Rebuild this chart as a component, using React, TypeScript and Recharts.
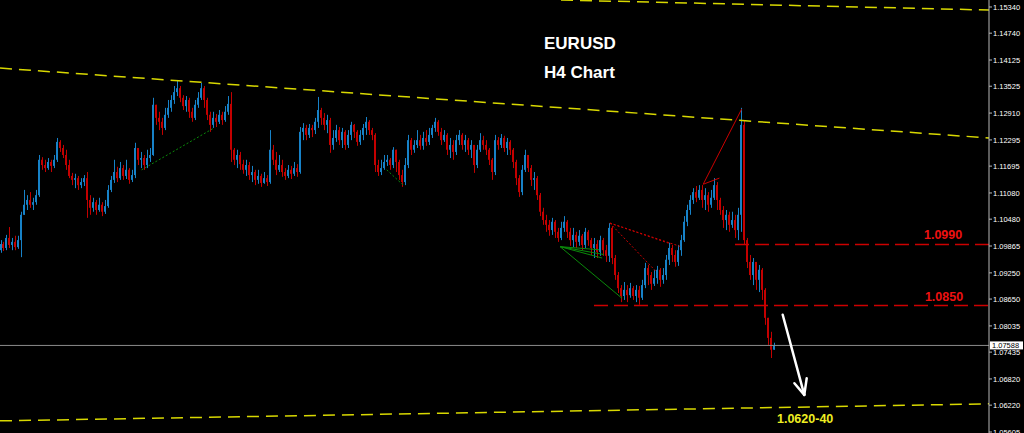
import React from 'react';
import { ComposedChart, Bar, XAxis, YAxis, ReferenceLine, ReferenceDot } from 'recharts';

// ---------- data (EURUSD H4) ----------
const FIRST_OPEN = 1.0977;

const closes = [
  1.0991, 1.0982, 1.1005, 1.0989, 1.0996, 1.0984, 1.1000, 1.1058, 1.1081, 1.1092,
  1.1081, 1.1087, 1.1103, 1.1184, 1.1172, 1.1165, 1.1179, 1.1170, 1.1184, 1.1225,
  1.1211, 1.1195, 1.1172, 1.1147, 1.1138, 1.1142, 1.1126, 1.1133, 1.1142, 1.1092,
  1.1074, 1.1087, 1.1069, 1.1081, 1.1065, 1.1078, 1.1115, 1.1138, 1.1156, 1.1142,
  1.1165, 1.1147, 1.1161, 1.1138, 1.1149, 1.1211, 1.1184, 1.1188, 1.1172, 1.1188,
  1.1195, 1.1310, 1.1280, 1.1271, 1.1257, 1.1287, 1.1303, 1.1321, 1.1339, 1.1348,
  1.1326, 1.1307, 1.1321, 1.1294, 1.1280, 1.1310, 1.1326, 1.1348, 1.1321, 1.1287,
  1.1264, 1.1280, 1.1271, 1.1287, 1.1275, 1.1294, 1.1312, 1.1207, 1.1184, 1.1195,
  1.1174, 1.1161, 1.1172, 1.1149, 1.1156, 1.1138, 1.1147, 1.1131, 1.1142, 1.1133,
  1.1207, 1.1184, 1.1161, 1.1172, 1.1156, 1.1147, 1.1161, 1.1152, 1.1165, 1.1156,
  1.1248, 1.1257, 1.1241, 1.1257, 1.1252, 1.1271, 1.1298, 1.1280, 1.1264, 1.1275,
  1.1218, 1.1234, 1.1252, 1.1229, 1.1248, 1.1218, 1.1241, 1.1264, 1.1248, 1.1225,
  1.1241, 1.1257, 1.1271, 1.1252, 1.1241, 1.1172, 1.1156, 1.1165, 1.1179, 1.1184,
  1.1172, 1.1207, 1.1179, 1.1149, 1.1133, 1.1172, 1.1229, 1.1207, 1.1218, 1.1229,
  1.1216, 1.1234, 1.1225, 1.1241, 1.1257, 1.1271, 1.1248, 1.1229, 1.1241, 1.1207,
  1.1218, 1.1202, 1.1229, 1.1241, 1.1218, 1.1229, 1.1207, 1.1218, 1.1172, 1.1207,
  1.1229, 1.1218, 1.1207, 1.1184, 1.1156, 1.1229, 1.1218, 1.1234, 1.1211, 1.1225,
  1.1207, 1.1179, 1.1142, 1.1110, 1.1161, 1.1195, 1.1165, 1.1138, 1.1142, 1.1103,
  1.1065, 1.1046, 1.1035, 1.1023, 1.1042, 1.1019, 1.1005, 1.1028, 1.1042, 1.1019,
  1.1000, 1.1012, 1.0996, 1.1010, 1.0989, 1.1019, 1.1000, 1.0982, 1.0991, 1.0973,
  1.1000, 1.0977, 1.0964, 1.1028, 1.0959, 1.0920, 1.0890, 1.0872, 1.0886, 1.0874,
  1.0890, 1.0872, 1.0886, 1.0868, 1.0897, 1.0936, 1.0920, 1.0900, 1.0913, 1.0932,
  1.0909, 1.0920, 1.0955, 1.0982, 1.0966, 1.0950, 1.0977, 1.1000, 1.1042, 1.1069,
  1.1092, 1.1110, 1.1097, 1.1115, 1.1092, 1.1103, 1.1081, 1.1097, 1.1126, 1.1092,
  1.1069, 1.1046, 1.1058, 1.1035, 1.1046, 1.1023, 1.1058, 1.1264, 1.1000, 1.0950,
  1.0920, 1.0950, 1.0909, 1.0932, 1.0886, 1.0822, 1.0776, 1.0749, 1.07588,
];

const highs = [
  1.1000, 1.0996, 1.1012, 1.1030, 1.1005, 1.1010, 1.1010, 1.1065, 1.1115, 1.1103,
  1.1110, 1.1097, 1.1115, 1.1195, 1.1190, 1.1184, 1.1188, 1.1184, 1.1195, 1.1234,
  1.1229, 1.1218, 1.1207, 1.1184, 1.1154, 1.1152, 1.1147, 1.1142, 1.1149, 1.1156,
  1.1103, 1.1097, 1.1092, 1.1097, 1.1087, 1.1092, 1.1126, 1.1147, 1.1184, 1.1168,
  1.1179, 1.1172, 1.1184, 1.1165, 1.1161, 1.1223, 1.1207, 1.1202, 1.1195, 1.1207,
  1.1211, 1.1326, 1.1298, 1.1294, 1.1280, 1.1303, 1.1321, 1.1332, 1.1353, 1.1365,
  1.1353, 1.1332, 1.1330, 1.1326, 1.1303, 1.1321, 1.1339, 1.1360, 1.1353, 1.1326,
  1.1294, 1.1294, 1.1289, 1.1298, 1.1294, 1.1307, 1.1330, 1.1339, 1.1211, 1.1207,
  1.1202, 1.1184, 1.1184, 1.1179, 1.1170, 1.1161, 1.1161, 1.1152, 1.1156, 1.1149,
  1.1252, 1.1218, 1.1202, 1.1195, 1.1184, 1.1165, 1.1172, 1.1170, 1.1179, 1.1174,
  1.1259, 1.1268, 1.1264, 1.1266, 1.1264, 1.1280, 1.1328, 1.1303, 1.1291, 1.1287,
  1.1280, 1.1252, 1.1264, 1.1259, 1.1257, 1.1252, 1.1252, 1.1271, 1.1266, 1.1252,
  1.1252, 1.1266, 1.1282, 1.1275, 1.1257, 1.1245, 1.1184, 1.1184, 1.1195, 1.1195,
  1.1188, 1.1213, 1.1207, 1.1184, 1.1161, 1.1188, 1.1241, 1.1234, 1.1229, 1.1252,
  1.1241, 1.1248, 1.1252, 1.1257, 1.1264, 1.1280, 1.1275, 1.1257, 1.1252, 1.1245,
  1.1234, 1.1229, 1.1241, 1.1252, 1.1245, 1.1241, 1.1234, 1.1229, 1.1218, 1.1218,
  1.1245, 1.1239, 1.1229, 1.1211, 1.1188, 1.1241, 1.1236, 1.1243, 1.1239, 1.1234,
  1.1229, 1.1211, 1.1184, 1.1149, 1.1172, 1.1207, 1.1195, 1.1172, 1.1156, 1.1147,
  1.1108, 1.1074, 1.1058, 1.1046, 1.1051, 1.1046, 1.1028, 1.1042, 1.1055, 1.1046,
  1.1028, 1.1028, 1.1019, 1.1023, 1.1014, 1.1028, 1.1023, 1.1005, 1.1005, 1.1000,
  1.1010, 1.1005, 1.0989, 1.1039, 1.1032, 1.0966, 1.0927, 1.0897, 1.0904, 1.0897,
  1.0902, 1.0895, 1.0897, 1.0895, 1.0909, 1.0948, 1.0943, 1.0927, 1.0932, 1.0941,
  1.0936, 1.0936, 1.0966, 1.0994, 1.0989, 1.0977, 1.0989, 1.1012, 1.1055, 1.1081,
  1.1103, 1.1119, 1.1124, 1.1126, 1.1126, 1.1119, 1.1110, 1.1115, 1.1142, 1.1133,
  1.1097, 1.1078, 1.1069, 1.1065, 1.1065, 1.1058, 1.1074, 1.1303, 1.1275, 1.1005,
  1.0966, 1.0959, 1.0950, 1.0943, 1.0936, 1.0890, 1.0817, 1.0790, 1.0765,
];

const lows = [
  1.0971, 1.0975, 1.0977, 1.0982, 1.0977, 1.0977, 1.0980, 1.0961, 1.1058, 1.1069,
  1.1074, 1.1069, 1.1081, 1.1099, 1.1161, 1.1156, 1.1161, 1.1156, 1.1165, 1.1179,
  1.1202, 1.1188, 1.1161, 1.1142, 1.1126, 1.1119, 1.1115, 1.1119, 1.1124, 1.1051,
  1.1058, 1.1065, 1.1058, 1.1065, 1.1055, 1.1060, 1.1074, 1.1110, 1.1131, 1.1133,
  1.1138, 1.1138, 1.1140, 1.1129, 1.1133, 1.1142, 1.1172, 1.1165, 1.1161, 1.1165,
  1.1179, 1.1193, 1.1264, 1.1252, 1.1241, 1.1252, 1.1280, 1.1294, 1.1312, 1.1330,
  1.1316, 1.1298, 1.1294, 1.1280, 1.1271, 1.1275, 1.1303, 1.1321, 1.1303, 1.1275,
  1.1248, 1.1257, 1.1259, 1.1266, 1.1264, 1.1271, 1.1287, 1.1179, 1.1172, 1.1165,
  1.1161, 1.1152, 1.1147, 1.1138, 1.1133, 1.1126, 1.1129, 1.1122, 1.1129, 1.1124,
  1.1129, 1.1172, 1.1149, 1.1156, 1.1145, 1.1138, 1.1142, 1.1140, 1.1147, 1.1145,
  1.1152, 1.1229, 1.1229, 1.1234, 1.1236, 1.1243, 1.1257, 1.1264, 1.1252, 1.1245,
  1.1200, 1.1207, 1.1225, 1.1218, 1.1211, 1.1207, 1.1211, 1.1229, 1.1234, 1.1216,
  1.1218, 1.1229, 1.1241, 1.1241, 1.1229, 1.1156, 1.1147, 1.1149, 1.1161, 1.1170,
  1.1161, 1.1165, 1.1156, 1.1138, 1.1122, 1.1126, 1.1165, 1.1195, 1.1200, 1.1211,
  1.1207, 1.1207, 1.1216, 1.1218, 1.1234, 1.1248, 1.1239, 1.1218, 1.1225, 1.1195,
  1.1188, 1.1184, 1.1195, 1.1218, 1.1207, 1.1202, 1.1195, 1.1188, 1.1154, 1.1165,
  1.1202, 1.1207, 1.1195, 1.1172, 1.1138, 1.1149, 1.1207, 1.1211, 1.1202, 1.1195,
  1.1195, 1.1165, 1.1126, 1.1099, 1.1103, 1.1156, 1.1156, 1.1124, 1.1115, 1.1092,
  1.1055, 1.1035, 1.1019, 1.1010, 1.1012, 1.1005, 1.0996, 1.1000, 1.1019, 1.1005,
  1.0987, 1.0984, 1.0982, 1.0987, 1.0977, 1.0982, 1.0987, 1.0966, 1.0959, 1.0959,
  1.0964, 1.0964, 1.0950, 1.0950, 1.0945, 1.0909, 1.0879, 1.0858, 1.0863, 1.0858,
  1.0868, 1.0863, 1.0858, 1.0852, 1.0863, 1.0890, 1.0897, 1.0886, 1.0895, 1.0900,
  1.0893, 1.0900, 1.0909, 1.0943, 1.0950, 1.0939, 1.0941, 1.0964, 1.0996, 1.1032,
  1.1058, 1.1083, 1.1087, 1.1092, 1.1074, 1.1069, 1.1065, 1.1074, 1.1092, 1.1069,
  1.1058, 1.1028, 1.1023, 1.1019, 1.1028, 1.1005, 1.1000, 1.1019, 1.0989, 1.0936,
  1.0909, 1.0897, 1.0886, 1.0881, 1.0863, 1.0806, 1.0760, 1.0730, 1.0753,
];

const priceTicks = [
  1.1534, 1.1474, 1.14125, 1.13525, 1.1291, 1.12295, 1.11695, 1.1108, 1.1048,
  1.09865, 1.0925, 1.0865, 1.08035, 1.07435, 1.0682, 1.0622, 1.05605,
];

const CURRENT_PRICE = 1.07588;
const LEVEL_HIGH = 1.099;
const LEVEL_LOW = 1.085;
const TARGET_TEXT = '1.0620-40';
const TARGET_PRICE = 1.062;

// chart geometry in data units (bar slots incl. right-hand shift, price range)
const SLOTS = 329.667;
const PRICE_MIN = 1.05582;
const PRICE_MAX = 1.155;

// drawn objects (in bar-index / price coordinates)
const upperChannel = [{ x: 0, y: 1.1394 }, { x: SLOTS, y: 1.1234 }];
const topChannel = [{ x: 187, y: 1.1550 }, { x: SLOTS, y: 1.1527 }];
const lowerChannel = [{ x: 0, y: 1.0586 }, { x: SLOTS, y: 1.0625 }];
const highLevelStart = 245;
const lowLevelStart = 198;
const redSolid = [
  [{ x: 234.4, y: 1.1128 }, { x: 247.2, y: 1.13 }],
  [{ x: 234.4, y: 1.1128 }, { x: 239.8, y: 1.1142 }],
];
const redDotted = [
  [{ x: 203.3, y: 1.1039 }, { x: 227, y: 1.0985 }],
  [{ x: 203.3, y: 1.1039 }, { x: 223.7, y: 1.0991 }],
  [{ x: 203.3, y: 1.1039 }, { x: 218.7, y: 1.0928 }],
];
const greenSolid = [
  [{ x: 186.7, y: 1.0985 }, { x: 200.7, y: 1.0959 }],
  [{ x: 186.7, y: 1.0985 }, { x: 201.3, y: 1.0967 }],
  [{ x: 186.7, y: 1.0985 }, { x: 199.7, y: 1.0978 }],
  [{ x: 186.7, y: 1.0985 }, { x: 207.3, y: 1.0867 }],
];
const greenDotted = [
  [{ x: 47.2, y: 1.1161 }, { x: 71.1, y: 1.1256 }],
  [{ x: 128.9, y: 1.1161 }, { x: 134.4, y: 1.1126 }],
];
const arrowLines = [
  [{ x: 260.9, y: 1.0829 }, { x: 268.1, y: 1.06455 }],
  [{ x: 268.1, y: 1.06455 }, { x: 264.8, y: 1.06722 }],
  [{ x: 268.1, y: 1.06455 }, { x: 268.9, y: 1.06837 }],
];

const candles = closes.map((c, i) => {
  const o = i === 0 ? FIRST_OPEN : closes[i - 1];
  return {
    idx: i + 0.5,
    open: o,
    close: c,
    high: Math.max(highs[i], o, c),
    low: Math.min(lows[i], o, c),
  };
});

// ---------- styles ----------
const BULL = '#1782c8';
const BEAR = '#c40000';
const YELLOW = '#d8d800';
const RED_LINE = '#cc0000';
const GREEN = '#0a8a0a';
const AXIS = '#b8b8b8';
const FONT = '"Liberation Sans", Arial, sans-serif';

function CandleShape(props: any) {
  const { x, y, width, height, payload } = props;
  if (payload == null || x == null || y == null) return null;
  const top = height < 0 ? y + height : y;
  const h = Math.abs(height);
  const { open, close, high, low } = payload;
  const span = high - low || 1e-9;
  const toY = (v: number) => top + ((high - v) / span) * h;
  const color = close >= open ? BULL : BEAR;
  const px = Math.floor(x + width / 2);
  const yO = toY(open);
  const yC = toY(close);
  const bTop = Math.min(yO, yC);
  const bH = Math.max(1, Math.abs(yO - yC));
  return (
    <g>
      <rect x={px} y={top} width={1} height={Math.max(1, h)} fill={color} />
      <rect x={px - 1} y={bTop} width={2} height={bH} fill={color} />
    </g>
  );
}

const PriceTag = (props: any) => {
  const vb = props.viewBox || {};
  const right = (vb.x || 0) + (vb.width || 0);
  const y = vb.y || 0;
  return (
    <g>
      <rect x={right + 1} y={y - 4} width={33} height={8} fill="#ffffff" />
      <text x={right + 3} y={y + 3} fontSize={7.5} fontFamily={FONT} fill="#000000">
        {CURRENT_PRICE.toFixed(5)}
      </text>
    </g>
  );
};

const makeTextShape = (text: string, color: string, dy: number) => (p: any) => (
  <text
    x={p.cx}
    y={p.cy + dy}
    fill={color}
    fontSize={12.5}
    fontWeight="bold"
    fontFamily={FONT}
    textAnchor="start"
  >
    {text}
  </text>
);

export default function App() {
  return (
    <div
      style={{
        position: 'absolute',
        left: 0,
        top: 0,
        width: 1024,
        height: 433,
        background: '#000000',
        overflow: 'hidden',
      }}
    >
      <ComposedChart
        width={1024}
        height={433}
        data={candles}
        margin={{ top: 0, right: 0, bottom: 0, left: 0 }}
      >
        <XAxis
          dataKey="idx"
          type="number"
          domain={[0, SLOTS]}
          allowDataOverflow
          hide
        />
        <YAxis
          orientation="right"
          type="number"
          domain={[PRICE_MIN, PRICE_MAX]}
          allowDataOverflow
          ticks={priceTicks}
          interval={0}
          width={35}
          tickSize={3}
          tickMargin={1}
          stroke={AXIS}
          tickLine={{ stroke: AXIS }}
          axisLine={{ stroke: AXIS }}
          tick={{ fill: '#ffffff', fontSize: 7.5, fontFamily: FONT }}
          tickFormatter={(v: number) => v.toFixed(5)}
        />

        {/* channel lines */}
        <ReferenceLine segment={upperChannel} stroke={YELLOW} strokeWidth={1.5} strokeDasharray="12 7" ifOverflow="visible" />
        <ReferenceLine segment={topChannel} stroke={YELLOW} strokeWidth={1.5} strokeDasharray="12 7" ifOverflow="hidden" />
        <ReferenceLine segment={lowerChannel} stroke={YELLOW} strokeWidth={1.5} strokeDasharray="12 7" ifOverflow="visible" />

        {/* horizontal levels */}
        <ReferenceLine
          segment={[{ x: highLevelStart, y: LEVEL_HIGH }, { x: SLOTS, y: LEVEL_HIGH }]}
          stroke={RED_LINE}
          strokeWidth={1.5}
          strokeDasharray="14 6"
          ifOverflow="visible"
        />
        <ReferenceLine
          segment={[{ x: lowLevelStart, y: LEVEL_LOW }, { x: SLOTS, y: LEVEL_LOW }]}
          stroke={RED_LINE}
          strokeWidth={1.5}
          strokeDasharray="14 6"
          ifOverflow="visible"
        />

        {/* pattern drawings */}
        {greenDotted.map((s, i) => (
          <ReferenceLine key={'gd' + i} segment={s} stroke={GREEN} strokeWidth={1} strokeDasharray="2 2" ifOverflow="visible" />
        ))}
        {greenSolid.map((s, i) => (
          <ReferenceLine key={'gs' + i} segment={s} stroke={GREEN} strokeWidth={1} ifOverflow="visible" />
        ))}
        {redDotted.map((s, i) => (
          <ReferenceLine key={'rd' + i} segment={s} stroke={RED_LINE} strokeWidth={1} strokeDasharray="2 2" ifOverflow="visible" />
        ))}
        {redSolid.map((s, i) => (
          <ReferenceLine key={'rs' + i} segment={s} stroke={RED_LINE} strokeWidth={1} ifOverflow="visible" />
        ))}

        {/* current price line */}
        <ReferenceLine y={CURRENT_PRICE} stroke="#8c8c8c" strokeWidth={1} label={<PriceTag />} ifOverflow="visible" />

        <Bar
          dataKey={(d: any) => [d.low, d.high]}
          barSize={2}
          isAnimationActive={false}
          shape={<CandleShape />}
        />

        {/* arrow */}
        {arrowLines.map((s, i) => (
          <ReferenceLine key={'ar' + i} segment={s} stroke="#ffffff" strokeWidth={2.5} strokeLinecap="round" ifOverflow="visible" />
        ))}

        {/* level labels */}
        <ReferenceDot x={308} y={LEVEL_HIGH} r={0} ifOverflow="visible" shape={makeTextShape(LEVEL_HIGH.toFixed(4), '#ee1111', -5)} />
        <ReferenceDot x={308.3} y={LEVEL_LOW} r={0} ifOverflow="visible" shape={makeTextShape(LEVEL_LOW.toFixed(4), '#ee1111', -5)} />
        <ReferenceDot x={259} y={TARGET_PRICE} r={0} ifOverflow="visible" shape={makeTextShape(TARGET_TEXT, '#eeee22', 17)} />
      </ComposedChart>

      <svg
        width={1024}
        height={433}
        style={{ position: 'absolute', left: 0, top: 0, pointerEvents: 'none' }}
      >
        <text x={544} y={49} fill="#ffffff" fontSize={17} fontWeight="bold" fontFamily={FONT}>
          EURUSD
        </text>
        <text x={544} y={78} fill="#ffffff" fontSize={17} fontWeight="bold" fontFamily={FONT}>
          H4 Chart
        </text>
      </svg>
    </div>
  );
}
